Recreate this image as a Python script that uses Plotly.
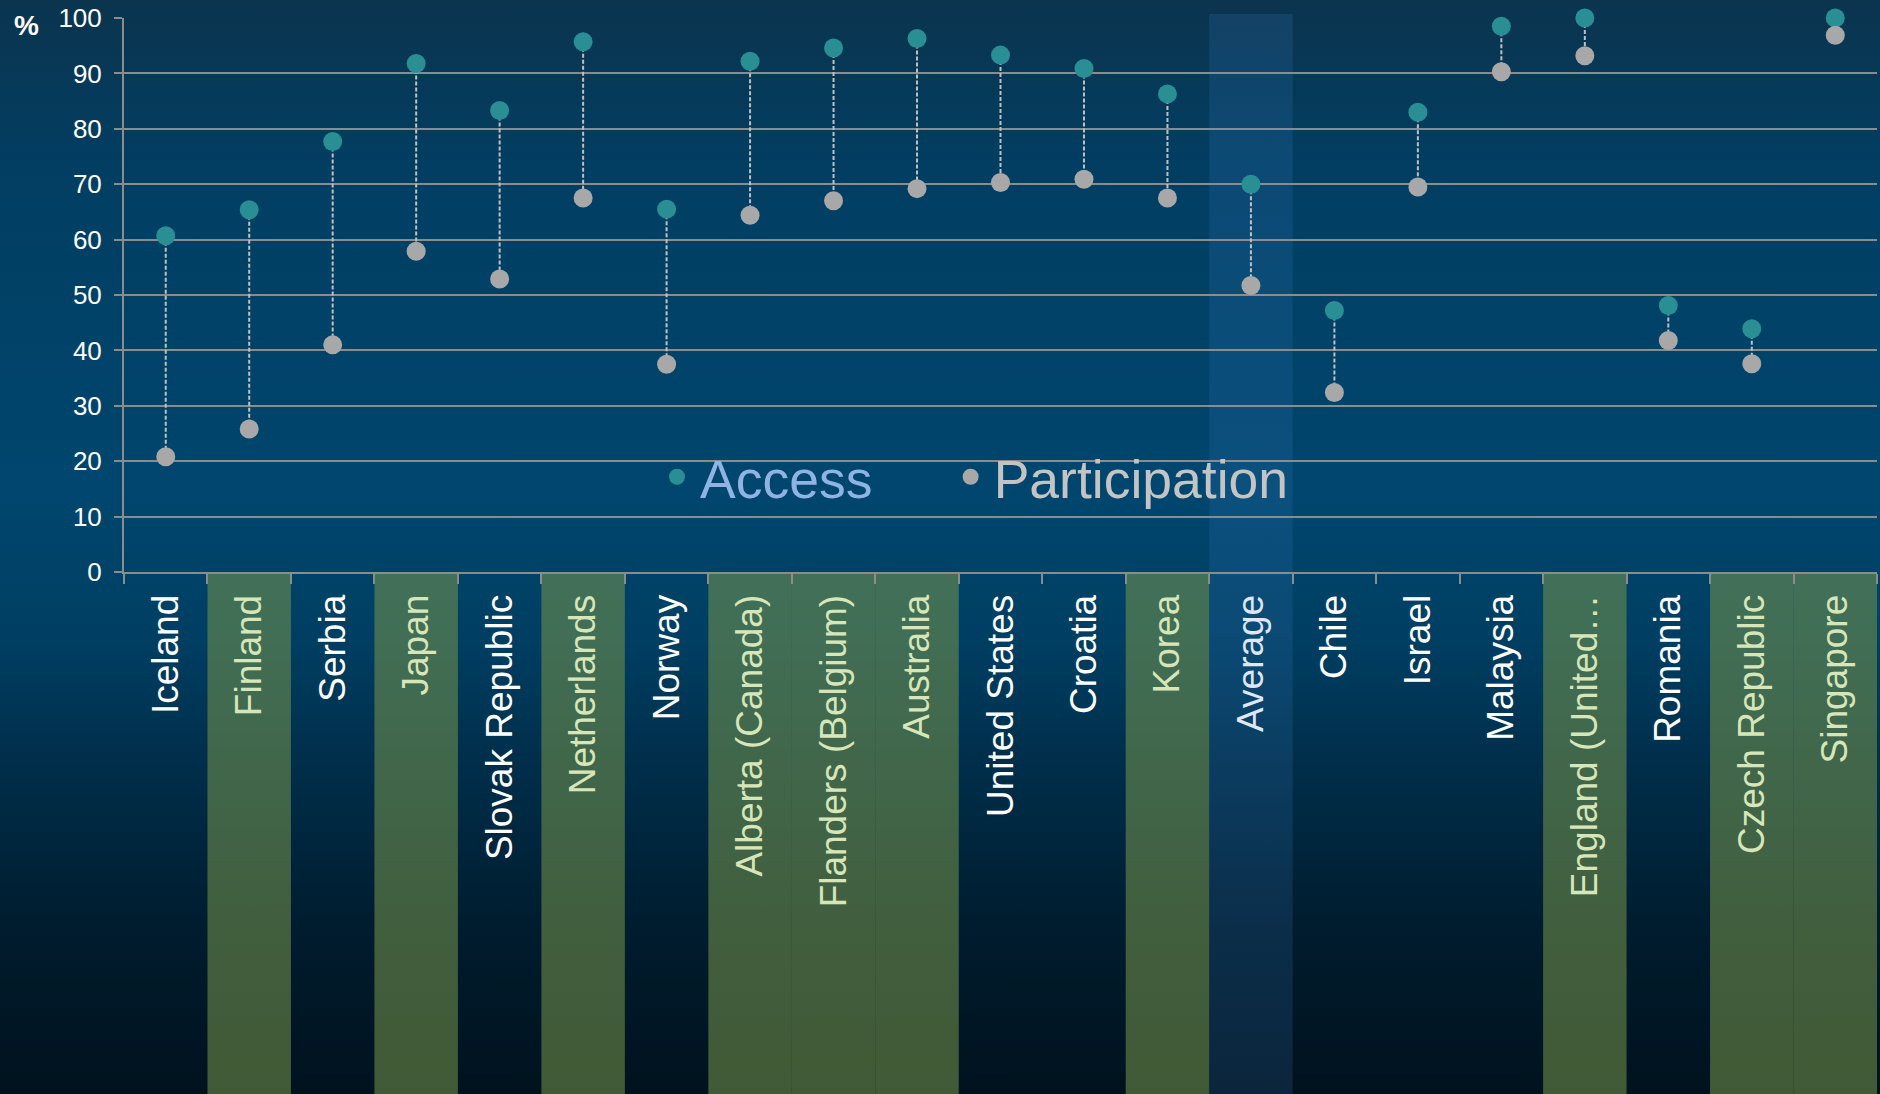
import base64
import plotly.graph_objects as go

categories = ["Iceland", "Finland", "Serbia", "Japan", "Slovak Republic", "Netherlands",
              "Norway", "Alberta (Canada)", "Flanders (Belgium)", "Australia",
              "United States", "Croatia", "Korea", "Average", "Chile", "Israel",
              "Malaysia", "England (United…", "Romania", "Czech Republic", "Singapore"]
access = [60.7, 65.4, 77.7, 91.8, 83.3, 95.7, 65.5, 92.2, 94.6, 96.3,
          93.3, 90.9, 86.3, 70.0, 47.2, 83.0, 98.5, 100.0, 48.1, 43.9, 100.0]
participation = [20.8, 25.8, 41.0, 57.9, 52.9, 67.5, 37.5, 64.4, 67.0, 69.2,
                 70.3, 70.9, 67.5, 51.7, 32.4, 69.5, 90.3, 93.2, 41.8, 37.6, 96.9]
y_ticks = [0, 10, 20, 30, 40, 50, 60, 70, 80, 90, 100]
green_groups = ["Finland", "Japan", "Netherlands", "Alberta (Canada)", "Flanders (Belgium)",
                "Australia", "Korea", "England (United…", "Czech Republic", "Singapore"]
highlight = "Average"

W, H = 1880, 1094
ML, MR, MT, MB = 124, 3, 18, 522
PW = W - ML - MR
PH = H - MT - MB

FONT = "Liberation Sans, Arial, sans-serif"
GRID = "#8c8c8c"
TEAL = "#2a8f94"
GREY = "#a8a8a8"

# background gradient
svg = (
    f'<svg xmlns="http://www.w3.org/2000/svg" width="{W}" height="{H}" preserveAspectRatio="none">'
    '<defs><linearGradient id="g" x1="0" y1="0" x2="0" y2="1">'
    '<stop offset="0" stop-color="rgb(11,52,78)"/>'
    '<stop offset="0.15" stop-color="rgb(2,62,98)"/>'
    '<stop offset="0.45" stop-color="rgb(0,70,110)"/>'
    '<stop offset="0.58" stop-color="rgb(0,63,99)"/>'
    '<stop offset="0.70" stop-color="rgb(0,46,74)"/>'
    '<stop offset="0.85" stop-color="rgb(0,28,46)"/>'
    '<stop offset="1" stop-color="rgb(0,18,30)"/>'
    '</linearGradient></defs>'
    f'<rect width="{W}" height="{H}" fill="url(#g)"/></svg>'
)
bg_src = "data:image/svg+xml;base64," + base64.b64encode(svg.encode()).decode()

fig = go.Figure()

# connectors
cx, cy = [], []
for c, a, p in zip(categories, access, participation):
    cx += [c, c, None]
    cy += [a, p, None]
fig.add_trace(go.Scatter(x=cx, y=cy, mode="lines", showlegend=False, hoverinfo="skip",
                         line=dict(color="#c0c0c0", width=2, dash="4px,2px"),
                         cliponaxis=False))
fig.add_trace(go.Scatter(x=categories, y=access, mode="markers",
                         name='<span style="color:#8fb4e3">Access</span>' + "&nbsp;" * 4 + "\u2009",
                         marker=dict(color=TEAL, size=19), cliponaxis=False))
fig.add_trace(go.Scatter(x=categories, y=participation, mode="markers",
                         name='<span style="color:#c4c4c4">Participation</span>',
                         marker=dict(color=GREY, size=19), cliponaxis=False))

shapes = []
for i, c in enumerate(categories):
    if c in green_groups:
        shapes.append(dict(type="rect", xref="x", yref="paper", x0=i - 0.5, x1=i + 0.5,
                           y0=-1.0, y1=0, fillcolor="rgba(118,150,75,0.55)",
                           line=dict(width=0), layer="below"))
    if c == highlight:
        shapes.append(dict(type="rect", xref="x", yref="paper", x0=i - 0.5, x1=i + 0.5,
                           y0=-1.0, y1=1 + 4.0 / PH, fillcolor="rgba(60,130,200,0.18)",
                           line=dict(width=0), layer="below"))

ticktext = []
for c in categories:
    if c == highlight:
        col = "#dfe6f4"
    elif c in green_groups:
        col = "#d7e6b9"
    else:
        col = "#ffffff"
    ticktext.append(f'<span style="color:{col}">{c}</span>')

fig.update_layout(
    width=W, height=H,
    margin=dict(l=ML, r=MR, t=MT, b=MB, pad=0),
    paper_bgcolor="rgb(0,18,30)",
    plot_bgcolor="rgba(0,0,0,0)",
    font=dict(family=FONT, color="#ffffff"),
    shapes=shapes,
    images=[dict(source=bg_src, xref="paper", yref="paper",
                 x=-ML / PW, y=1 + MT / PH, sizex=W / PW, sizey=H / PH,
                 xanchor="left", yanchor="top", sizing="stretch", layer="below")],
    showlegend=True,
    legend=dict(orientation="h", x=(654 - ML) / PW, y=(572 - 477) / PH,
                xanchor="left", yanchor="middle", bgcolor="rgba(0,0,0,0)",
                font=dict(size=53.5, family=FONT), itemwidth=36,
                itemclick=False, itemdoubleclick=False),
    annotations=[dict(text="<b>%</b>", xref="paper", yref="paper",
                      x=(26 - ML) / PW, y=1 + (18 - 26) / PH, showarrow=False,
                      xanchor="center", yanchor="middle",
                      font=dict(size=28, color="#ffffff", family=FONT))],
    xaxis=dict(type="category", categoryorder="array", categoryarray=categories,
               tickmode="array", tickvals=categories, ticktext=ticktext,
               tickangle=-90, tickfont=dict(size=37, family=FONT),
               ticks="outside", ticklen=10, tickwidth=2, tickcolor=GRID,
               tickson="boundaries", showline=True, linecolor=GRID, linewidth=2,
               showgrid=False, zeroline=False, ticklabelstandoff=6,
               range=[-0.5, len(categories) - 0.5]),
    yaxis=dict(range=[0, 100], tickvals=y_ticks, tickfont=dict(size=26, family=FONT),
               ticks="outside", ticklen=8, tickwidth=2, tickcolor=GRID,
               showline=True, linecolor=GRID, linewidth=2,
               showgrid=True, gridcolor=GRID, gridwidth=2, zeroline=False,
               ticklabelstandoff=7),
)
fig.write_html("out.html")
